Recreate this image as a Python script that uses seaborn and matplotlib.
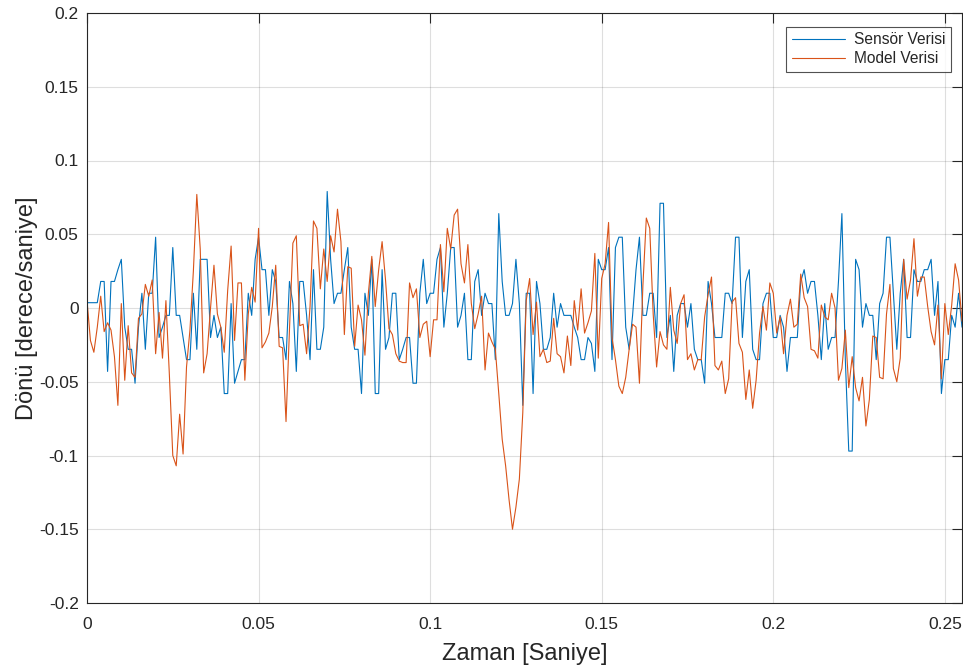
import numpy as np
import pandas as pd
import matplotlib
matplotlib.use("Agg")
import matplotlib.pyplot as plt
import seaborn as sns

# Sample step 1 ms
dt = 0.001

# Sensor data, deg/s
sensor = [
    0.0036, 0.0036, 0.0036, 0.0036, 0.018, 0.018, -0.043, 0.018, 0.018, 0.026,
    0.033, -0.013, -0.028, -0.028, -0.051, -0.013, 0.010, -0.028, 0.010, 0.010,
    0.048, -0.020, -0.013, -0.005, -0.005, 0.041, -0.005, -0.005, -0.020, -0.035,
    -0.035, 0.010, -0.028, 0.033, 0.033, 0.033, -0.020, -0.005, -0.020, -0.013,
    -0.058, -0.058, 0.003, -0.051, -0.043, -0.035, -0.035, 0.010, -0.005, 0.033,
    0.048, 0.026, 0.026, -0.005, 0.026, 0.018, -0.020, -0.020, -0.035, 0.018,
    0.003, -0.043, 0.018, 0.018, -0.005, -0.035, 0.026, -0.028, -0.028, -0.013,
    0.079, 0.033, 0.003, 0.010, 0.010, 0.026, 0.041, -0.013, -0.028, -0.028,
    -0.058, 0.010, -0.005, 0.033, -0.058, -0.058, 0.026, -0.028, -0.020, 0.010,
    0.010, -0.035, -0.028, -0.020, -0.020, -0.051, -0.051, 0.010, 0.033, 0.003,
    0.010, 0.010, 0.033, 0.041, -0.013, 0.010, 0.041, 0.041, -0.013, -0.005,
    0.010, -0.035, -0.035, 0.018, 0.026, -0.005, 0.010, 0.003, 0.003, -0.035,
    0.064, 0.018, -0.005, -0.005, 0.003, 0.033, 0.003, -0.066, 0.010, 0.010,
    -0.058, 0.018, 0.003, -0.028, -0.028, -0.020, 0.010, -0.013, 0.003, -0.005,
    -0.005, -0.005, -0.013, -0.020, -0.035, -0.035, -0.020, -0.024, -0.043, 0.033,
    0.026, 0.026, 0.041, -0.035, 0.041, 0.048, 0.048, -0.013, -0.028, -0.005,
    0.026, 0.048, -0.005, -0.005, 0.010, 0.010, -0.020, 0.071, 0.071, -0.020,
    -0.005, -0.043, -0.005, 0.003, 0.003, -0.013, 0.003, -0.028, -0.035, -0.035,
    -0.051, 0.018, 0.003, -0.020, -0.020, -0.020, 0.010, 0.010, 0.003, 0.048,
    0.048, -0.020, 0.018, 0.026, -0.028, -0.035, -0.035, 0.003, 0.010, 0.010,
    -0.020, -0.020, -0.005, -0.013, -0.043, -0.020, -0.020, -0.020, 0.018, 0.026,
    0.010, 0.018, 0.018, -0.005, -0.035, 0.003, -0.028, -0.020, -0.020, 0.018,
    0.064, -0.035, -0.097, -0.097, 0.033, 0.026, -0.013, 0.003, -0.005, -0.005,
    -0.035, 0.003, 0.010, 0.048, 0.048, 0.010, -0.028, 0.010, 0.033, -0.020,
    -0.020, 0.026, 0.018, 0.018, 0.026, 0.026, 0.033, -0.005, 0.018, -0.058,
    -0.035, -0.035, -0.005, -0.013, 0.010, -0.013,
]

# Model data, deg/s
model = [
    0.005, -0.022, -0.030, -0.013, 0.008, -0.016, -0.010, -0.015, -0.033, -0.066,
    0.003, -0.049, -0.012, -0.044, -0.047, -0.007, -0.004, 0.016, 0.008, 0.019,
    -0.031, -0.003, -0.034, 0.005, -0.045, -0.100, -0.107, -0.072, -0.099, -0.040,
    -0.015, 0.025, 0.077, 0.040, -0.044, -0.031, 0.000, 0.029, -0.004, -0.013,
    -0.030, 0.012, 0.042, -0.022, 0.017, 0.017, -0.049, -0.004, 0.014, 0.004,
    0.054, -0.027, -0.023, -0.017, 0.001, 0.029, -0.026, -0.027, -0.077, -0.015,
    0.044, 0.049, -0.012, -0.011, -0.031, 0.001, 0.059, 0.054, 0.013, 0.040,
    0.018, 0.049, 0.038, 0.067, 0.045, -0.018, 0.028, 0.027, -0.026, 0.002,
    -0.008, -0.032, 0.010, 0.035, 0.001, 0.026, 0.045, 0.019, -0.014, -0.018,
    -0.031, -0.036, -0.037, -0.037, 0.017, 0.007, 0.013, -0.020, -0.011, -0.009,
    -0.033, -0.008, -0.008, 0.043, 0.011, 0.054, 0.040, 0.063, 0.067, 0.030,
    0.017, 0.043, 0.003, -0.014, -0.004, 0.008, -0.042, -0.017, -0.023, -0.028,
    -0.058, -0.089, -0.107, -0.130, -0.150, -0.135, -0.116, -0.071, 0.005, 0.020,
    -0.018, 0.004, -0.033, -0.028, -0.037, -0.036, -0.007, -0.031, -0.033, -0.044,
    -0.019, -0.039, 0.005, -0.015, 0.013, -0.017, -0.010, -0.002, 0.037, -0.034,
    0.020, 0.030, 0.058, -0.020, -0.035, -0.053, -0.058, -0.047, -0.028, -0.011,
    -0.013, -0.051, 0.015, 0.061, 0.054, -0.004, -0.040, -0.016, -0.025, -0.028,
    0.014, -0.015, -0.024, 0.003, 0.009, -0.035, -0.031, -0.042, -0.035, -0.035,
    -0.006, 0.009, 0.021, -0.039, -0.042, -0.036, -0.058, -0.048, 0.004, 0.007,
    -0.024, -0.030, -0.062, -0.042, -0.068, -0.049, -0.017, 0.001, -0.015, 0.017,
    0.010, -0.017, -0.006, -0.031, -0.005, 0.006, -0.013, -0.011, 0.023, 0.007,
    0.001, -0.028, -0.029, -0.034, 0.002, -0.006, -0.008, 0.010, 0.000, -0.049,
    -0.041, -0.015, -0.054, -0.033, -0.054, -0.063, -0.047, -0.080, -0.062, -0.019,
    -0.020, -0.047, -0.048, -0.004, 0.016, -0.041, -0.050, -0.034, 0.033, 0.006,
    0.019, 0.047, 0.008, 0.021, 0.021, 0.001, -0.016, -0.025, 0.002, -0.048,
    0.003, -0.018, 0.002, 0.030, 0.019, -0.009,
]

zaman = np.arange(len(sensor)) * dt

df = pd.DataFrame({"Zaman": zaman, "Sensor": sensor, "Model": model})

sns.set_style("white")
plt.rcParams["font.family"] = ["Liberation Sans", "DejaVu Sans"]

fig = plt.figure(figsize=(9.63, 6.68), dpi=100)
ax = fig.add_axes([87 / 963, 1 - 603 / 668, 875 / 963, 590 / 668])

sns.lineplot(data=df, x="Zaman", y="Sensor", ax=ax, color="#0072BD",
             linewidth=0.8, label="Sensör Verisi")
sns.lineplot(data=df, x="Zaman", y="Model", ax=ax, color="#D95319",
             linewidth=0.8, label="Model Verisi")

ax.set_xlim(0, zaman[-1])
ax.set_ylim(-0.2, 0.2)
ax.set_xticks([0, 0.05, 0.1, 0.15, 0.2, 0.25])
ax.set_xticklabels(["0", "0.05", "0.1", "0.15", "0.2", "0.25"])
ax.set_yticks(np.round(np.arange(-0.2, 0.201, 0.05), 2))
ax.set_yticklabels(["-0.2", "-0.15", "-0.1", "-0.05", "0", "0.05", "0.1", "0.15", "0.2"])

ax.grid(True, color="#262626", alpha=0.15, linewidth=0.8)
ax.set_axisbelow(True)
for s in ax.spines.values():
    s.set_color("#262626")
    s.set_linewidth(0.8)
ax.tick_params(direction="in", length=7, width=0.8, colors="#262626",
               labelsize=12.5, top=True, right=True, labelcolor="#262626")
ax.tick_params(axis="x", pad=10)
ax.tick_params(axis="y", pad=6)

ax.set_xlabel("Zaman [Saniye]", fontsize=17, color="#262626", labelpad=8)
ax.set_ylabel("Dönü [derece/saniye]", fontsize=17, color="#262626", labelpad=1)

# legend box: right edge at x=951 px, top at y=27 px
leg = ax.legend(loc="upper right", borderaxespad=0,
                fontsize=11.2, frameon=True, fancybox=False,
                handlelength=3.4, labelspacing=0.25, borderpad=0.35,
                handletextpad=0.6)
leg.set_bbox_to_anchor(((951 - 87) / 875, 1 - 14 / 590), transform=ax.transAxes)
leg.get_frame().set_edgecolor("#262626")
leg.get_frame().set_linewidth(0.8)

fig.savefig("out.png", dpi=100)
